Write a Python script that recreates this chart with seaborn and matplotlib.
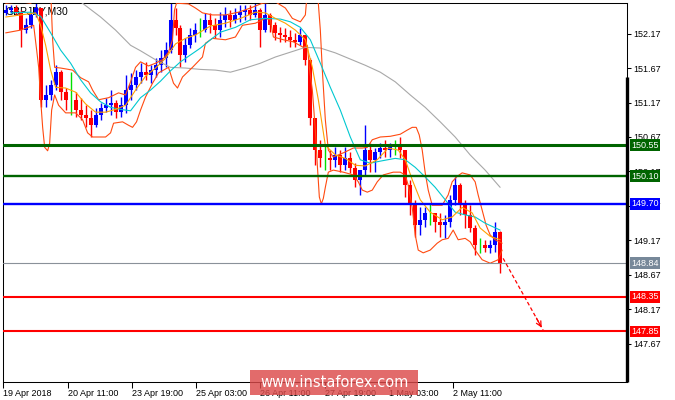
import matplotlib.pyplot as plt
import matplotlib.patches as mpatches
import numpy as np
import pandas as pd
import seaborn as sns

# ---------------------------------------------------------------------------
# Data (GBPJPY M30, one candle sampled every 5 bars)
# ---------------------------------------------------------------------------
candle_bar = np.arange(0, 500, 5)
first_open = 152.47
candle_high = [152.58, 152.58, 152.58, 152.51, 152.39, 152.48, 152.61, 152.54, 151.42, 151.50,
               151.71, 151.64, 151.38, 151.61, 151.32, 151.24, 151.13, 151.06, 151.09, 151.16,
               151.24, 151.35, 151.21, 151.25, 151.57, 151.60, 151.64, 151.74, 151.76, 151.71,
               151.81, 151.93, 152.05, 152.61, 152.54, 152.29, 152.10, 152.25, 152.32, 152.39,
               152.47, 152.47, 152.39, 152.48, 152.55, 152.51, 152.54, 152.58, 152.58, 152.58,
               152.61, 152.54, 152.61, 152.47, 152.34, 152.26, 152.25, 152.22, 152.18, 152.25,
               152.15, 151.81, 150.95, 150.63, 150.55, 150.48, 150.52, 150.48, 150.52, 150.45,
               150.29, 150.19, 150.84, 150.58, 150.51, 150.58, 150.63, 150.58, 150.63, 150.67,
               150.48, 150.05, 149.76, 149.66, 149.66, 149.71, 149.57, 149.57, 149.54, 149.83,
               150.09, 150.00, 149.76, 149.68, 149.39, 149.20, 149.18, 149.18, 149.44, 149.30]
candle_low = [152.44, 152.47, 152.44, 151.97, 152.18, 152.25, 152.41, 151.10, 151.10, 151.21,
              151.35, 151.21, 151.06, 150.99, 150.96, 150.92, 150.81, 150.67, 150.81, 150.92,
              151.03, 150.99, 150.95, 150.96, 151.02, 151.21, 151.35, 151.45, 151.50, 151.45,
              151.54, 151.61, 151.68, 151.89, 152.15, 151.68, 151.76, 151.96, 152.05, 152.12,
              152.19, 152.18, 152.10, 152.12, 152.26, 152.26, 152.32, 152.34, 152.37, 152.37,
              152.41, 151.97, 152.19, 152.19, 152.08, 152.05, 152.05, 151.97, 151.97, 152.00,
              151.71, 150.84, 150.26, 150.23, 150.19, 150.19, 150.23, 150.16, 150.19, 150.15,
              149.94, 149.83, 150.12, 150.16, 150.16, 150.36, 150.38, 150.38, 150.41, 150.36,
              149.80, 149.54, 149.22, 149.25, 149.36, 149.39, 149.29, 149.22, 149.20, 149.36,
              149.68, 149.54, 149.35, 149.29, 148.96, 148.99, 149.00, 148.99, 149.00, 148.70]
candle_close = [152.51, 152.54, 152.48, 152.22, 152.29, 152.44, 152.54, 151.21, 151.28, 151.42,
                151.61, 151.32, 151.21, 151.21, 151.06, 150.99, 150.95, 150.84, 150.99, 151.09,
                151.13, 151.16, 151.03, 151.13, 151.35, 151.42, 151.54, 151.61, 151.57, 151.64,
                151.71, 151.81, 151.93, 152.37, 152.25, 151.86, 152.00, 152.15, 152.22, 152.22,
                152.37, 152.29, 152.22, 152.37, 152.44, 152.37, 152.44, 152.48, 152.51, 152.44,
                152.51, 152.22, 152.44, 152.29, 152.18, 152.15, 152.12, 152.08, 152.05, 152.15,
                151.79, 150.95, 150.48, 150.36, 150.36, 150.34, 150.41, 150.26, 150.36, 150.22,
                150.05, 150.19, 150.48, 150.34, 150.45, 150.51, 150.48, 150.52, 150.52, 150.48,
                149.97, 149.68, 149.39, 149.47, 149.57, 149.57, 149.44, 149.39, 149.44, 149.76,
                149.97, 149.68, 149.54, 149.35, 149.10, 149.10, 149.06, 149.10, 149.29, 148.84]

# Bollinger bands
bb_upper_bar = [0, 15, 25, 30, 33, 40, 45, 47, 49, 55, 67, 75, 83, 87, 93, 103, 113, 120, 125, 130,
                135, 143, 150, 157, 163, 167, 169, 171, 183, 190, 197, 207, 220, 233, 245, 257, 270,
                280, 287, 295, 300, 303, 308, 312, 315, 317, 320, 323, 328, 338, 348, 357, 362, 367,
                375, 385, 395, 402, 407, 411, 414, 417, 420, 423, 427, 437, 443, 447, 452, 457, 465,
                470, 473, 477, 481, 485, 490, 497]
bb_upper = [152.61, 152.63, 152.61, 152.66, 152.95, 153.24, 152.80, 152.08, 151.68, 151.67, 151.64,
            151.53, 151.47, 151.35, 151.21, 151.24, 151.31, 151.28, 151.47, 151.68, 151.76, 151.70,
            151.74, 151.79, 151.90, 152.08, 152.51, 152.61, 152.60, 152.54, 152.47, 152.44, 152.44,
            152.48, 152.54, 152.61, 152.63, 152.54, 152.39, 152.34, 152.44, 152.95, 153.53, 152.80,
            152.22, 151.64, 150.92, 150.48, 150.38, 150.44, 150.51, 150.51, 150.52, 150.63, 150.67,
            150.68, 150.71, 150.77, 150.81, 150.81, 150.70, 150.48, 150.15, 149.90, 149.68, 149.68,
            149.83, 150.02, 150.10, 150.15, 150.12, 150.02, 149.83, 149.61, 149.39, 149.25, 149.18,
            149.13]
bb_lower_bar = [0, 15, 28, 31, 33, 35, 37, 39, 42, 44, 46, 49, 53, 60, 70, 77, 82, 87, 100, 105,
                108, 117, 123, 127, 131, 135, 140, 147, 153, 163, 168, 172, 177, 187, 197, 200, 207,
                220, 230, 237, 250, 260, 265, 268, 278, 288, 298, 302, 304, 307, 310, 312, 314, 316,
                318, 320, 323, 328, 338, 348, 353, 357, 362, 367, 372, 378, 388, 395, 400, 403, 407,
                410, 413, 418, 425, 432, 437, 443, 448, 453, 460, 465, 470, 477, 485, 493, 497]
bb_lower = [152.18, 152.22, 152.29, 151.93, 151.68, 151.21, 150.81, 150.52, 150.47, 150.58, 151.06,
            151.28, 151.13, 151.02, 151.02, 150.92, 150.73, 150.67, 150.67, 150.73, 150.87, 150.89,
            150.84, 150.81, 150.89, 151.06, 151.25, 151.45, 151.60, 151.68, 151.45, 151.38, 151.54,
            151.68, 151.83, 152.03, 152.10, 152.08, 152.12, 152.29, 152.32, 152.39, 152.37, 152.12,
            152.08, 152.05, 151.97, 152.00, 151.68, 151.35, 150.77, 150.26, 149.80, 149.70, 149.78,
            149.94, 150.16, 150.19, 150.16, 150.12, 150.02, 149.90, 149.87, 149.90, 150.02, 150.12,
            150.16, 150.16, 150.12, 149.97, 149.65, 149.25, 149.03, 148.99, 149.03, 149.13, 149.18,
            149.20, 149.32, 149.18, 149.20, 149.15, 149.03, 148.89, 148.84, 148.89, 149.03]

# moving averages
ma_fast_bar = [0, 15, 30, 35, 40, 45, 50, 60, 70, 80, 90, 100, 110, 120, 130, 140, 150, 160, 170,
               180, 190, 205, 220, 235, 250, 260, 270, 280, 290, 300, 307, 313, 320, 330, 340, 350,
               360, 372, 383, 393, 400, 407, 415, 425, 437, 447, 457, 467, 475, 485, 495]
ma_fast = [152.41, 152.44, 152.47, 152.29, 152.00, 151.64, 151.39, 151.38, 151.32, 151.15, 151.03,
           151.03, 151.07, 151.13, 151.35, 151.55, 151.67, 151.81, 152.02, 152.10, 152.15, 152.28,
           152.32, 152.39, 152.48, 152.47, 152.39, 152.32, 152.22, 152.08, 151.68, 151.21, 150.55,
           150.41, 150.36, 150.26, 150.25, 150.34, 150.51, 150.48, 150.34, 150.05, 149.76, 149.58,
           149.47, 149.51, 149.65, 149.57, 149.35, 149.23, 149.18]
ma_mid_bar = [5, 25, 35, 45, 55, 65, 75, 85, 95, 105, 115, 125, 135, 145, 155, 165, 175, 185, 195,
              205, 215, 230, 245, 260, 275, 285, 295, 305, 315, 325, 335, 345, 355, 365, 375, 390,
              400, 410, 420, 430, 440, 450, 460, 470, 480, 495]
ma_mid = [152.47, 152.48, 152.42, 152.18, 151.93, 151.74, 151.50, 151.31, 151.18, 151.10, 151.07,
          151.05, 151.24, 151.35, 151.48, 151.63, 151.76, 151.86, 151.96, 152.08, 152.19, 152.26,
          152.37, 152.39, 152.38, 152.34, 152.26, 152.08, 151.74, 151.39, 151.06, 150.67, 150.34,
          150.29, 150.32, 150.36, 150.34, 150.23, 150.09, 149.94, 149.76, 149.58, 149.54, 149.51,
          149.42, 149.32]
ma_slow_bar = [55, 75, 95, 110, 125, 135, 150, 165, 180, 195, 210, 225, 240, 255, 270, 285, 300,
               315, 330, 345, 360, 375, 390, 405, 420, 435, 450, 465, 480, 495]
ma_slow = [152.90, 152.63, 152.41, 152.22, 152.00, 151.92, 151.79, 151.68, 151.67, 151.65, 151.64,
           151.61, 151.67, 151.74, 151.83, 151.90, 151.97, 151.96, 151.89, 151.80, 151.71, 151.61,
           151.47, 151.28, 151.10, 150.89, 150.67, 150.41, 150.19, 149.94]

# horizontal levels
level_prices = [150.55, 150.10, 149.70, 148.84, 148.35, 147.85]
level_colors = ["#006400", "#006400", "#0000ff", "#8a9199", "#ff0000", "#ff0000"]
level_box_colors = ["#006400", "#006400", "#0000ff", "#778899", "#ff0000", "#ff0000"]
level_widths = [2.2, 1.7, 1.7, 0.8, 1.5, 1.5]

# projected move
arrow_bar = [498, 538]
arrow_price = [148.91, 147.87]

price_ticks = [147.67, 148.17, 148.67, 149.17, 149.67, 150.17, 150.67, 151.17, 151.67, 152.17]
time_ticks = [-3, 62, 126, 191, 255, 320, 384, 448]
time_labels = ["19 Apr 2018", "20 Apr 11:00", "23 Apr 19:00", "25 Apr 03:00",
               "26 Apr 11:00", "27 Apr 19:00", "1 May 03:00", "2 May 11:00"]

# ---------------------------------------------------------------------------
# Plot
# ---------------------------------------------------------------------------
sns.set_theme(style="white")
plt.rcParams["font.family"] = ["Liberation Sans", "DejaVu Sans"]
plt.rcParams["axes.linewidth"] = 0.75

fig = plt.figure(figsize=(6.75, 4.0), dpi=100)
ax = fig.add_axes([0.004, 0.046, 0.9256, 0.947])

ax.text(0.004, 0.99, "GBPJPY,M30", transform=ax.transAxes, fontsize=7.5, color="black",
        va="top", ha="left", zorder=1)

df = pd.DataFrame({"bar": candle_bar, "high": candle_high, "low": candle_low, "close": candle_close})
df["open"] = df["close"].shift(1).fillna(first_open)
df["color"] = np.where(df["close"] > df["open"], "#0000ff",
                       np.where(df["close"] < df["open"], "#ff0000", "#00e000"))
ax.vlines(df["bar"], df["low"], df["high"], colors=df["color"], lw=1.0, zorder=2)
ax.vlines(df["bar"], df[["open", "close"]].min(axis=1), df[["open", "close"]].max(axis=1),
          colors=df["color"], lw=2.9, zorder=2)

line_kw = dict(ax=ax, sort=False, errorbar=None, lw=0.8, zorder=3)
sns.lineplot(x=ma_slow_bar, y=ma_slow, color="#a8a8a8", **line_kw)
sns.lineplot(x=bb_upper_bar, y=bb_upper, color="#ff4a10", **line_kw)
sns.lineplot(x=bb_lower_bar, y=bb_lower, color="#ff4a10", **line_kw)
sns.lineplot(x=ma_mid_bar, y=ma_mid, color="#00c8d0", **line_kw)
sns.lineplot(x=ma_fast_bar, y=ma_fast, color="#ffa000", **line_kw)

for price, col, box, lw in zip(level_prices, level_colors, level_box_colors, level_widths):
    ax.axhline(price, color=col, lw=lw, zorder=4)
    ax.annotate(f"{price:.2f}", xy=(1, price), xycoords=("axes fraction", "data"),
                xytext=(2.5, 0), textcoords="offset points", ha="left", va="center",
                fontsize=6.5, color="white", annotation_clip=False, zorder=6,
                bbox=dict(boxstyle="square,pad=0.15", fc=box, ec="none"))

# dashed projection with a solid head
ax.plot(arrow_bar, arrow_price, color="#ff0000", lw=0.9, ls=(0, (3, 2)), zorder=4)
head_from = (arrow_bar[0] + 0.8 * (arrow_bar[1] - arrow_bar[0]),
             arrow_price[0] + 0.8 * (arrow_price[1] - arrow_price[0]))
ax.annotate("", xy=(arrow_bar[1], arrow_price[1]), xytext=head_from,
            arrowprops=dict(arrowstyle="->", color="#ff0000", lw=0.9, mutation_scale=9), zorder=4)

ax.set_xlim(-2.3, 622.5)
ax.set_ylim(147.123, 152.616)
ax.yaxis.tick_right()
ax.set_yticks(price_ticks, [f"{p:.2f}" for p in price_ticks])
ax.set_xticks(time_ticks, time_labels, ha="left")
ax.tick_params(axis="y", direction="out", length=3, width=0.75, pad=1.5, labelsize=6.5,
               colors="black", right=True, left=False)
ax.tick_params(axis="x", direction="out", length=4, width=0.75, pad=1.0, labelsize=6.5,
               colors="black", bottom=True)
for spine in ax.spines.values():
    spine.set_color("black")
    spine.set_linewidth(0.75)
ax.set_xlabel("")
ax.set_ylabel("")

# thick segment on the price scale
ax.plot([1, 1], [151.54, 147.123], transform=ax.get_yaxis_transform(), color="black",
        lw=2.4, clip_on=False, zorder=5, solid_capstyle="butt")

# watermark
fig.patches.append(mpatches.Rectangle((0.370, 0.0125), 0.249, 0.0625, transform=fig.transFigure,
                                      facecolor="#dc4a4a", alpha=0.82, edgecolor="none", zorder=10))
fig.text(0.495, 0.044, "www.instaforex.com", color="white", fontsize=10.5, ha="center",
         va="center", family="DejaVu Sans", zorder=11)

fig.savefig("out.png", dpi=100)
